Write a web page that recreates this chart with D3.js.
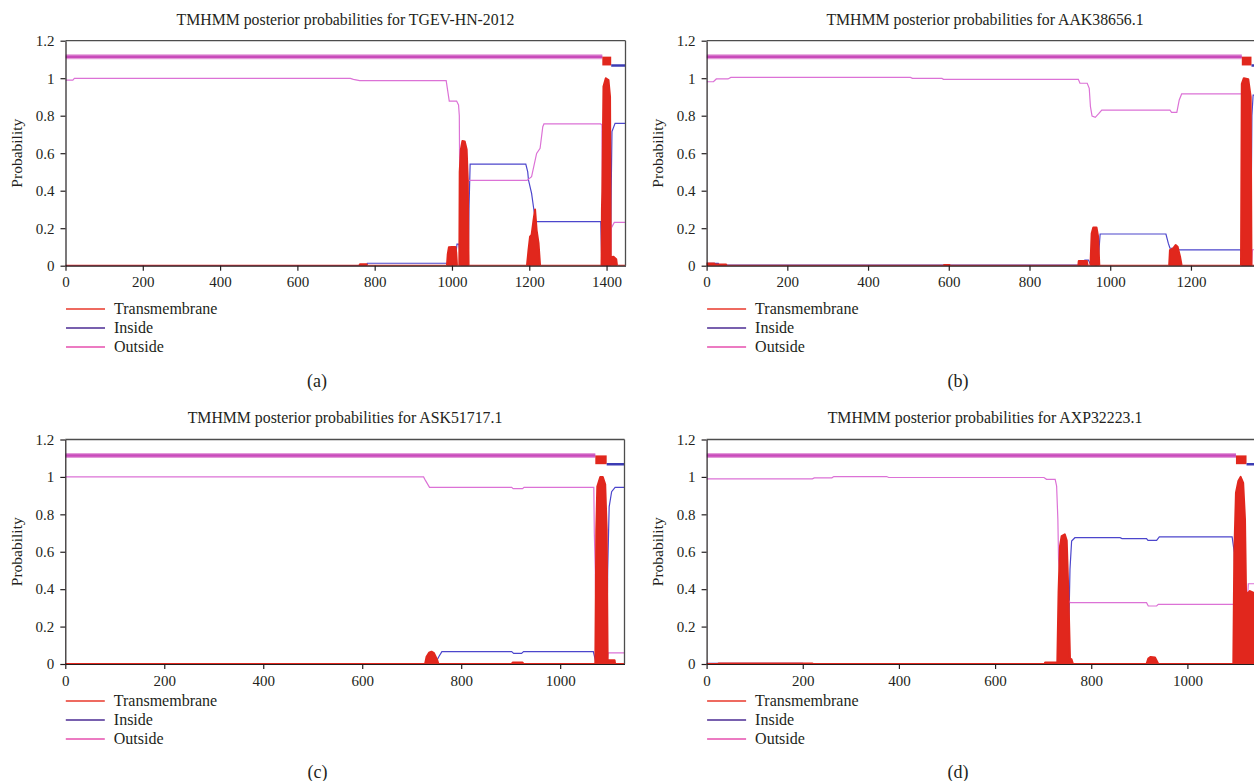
<!DOCTYPE html>
<html>
<head>
<meta charset="utf-8">
<script src="https://cdn.jsdelivr.net/npm/d3@7"></script>
<style>
  body { margin: 0; background: #fff; }
  svg { display: block; }
  text { font-family: "Liberation Serif", "Times New Roman", serif; fill: #231f20; }
</style>
</head>
<body>
<svg id="chart" width="1254" height="781"></svg>
<script>
// ---- data ----
var titles = [
    "TMHMM posterior probabilities for TGEV-HN-2012",
    "TMHMM posterior probabilities for AAK38656.1",
    "TMHMM posterior probabilities for ASK51717.1",
    "TMHMM posterior probabilities for AXP32223.1"
];
var captions = ["(a)", "(b)", "(c)", "(d)"];
var seqLengths = [1449, 1380, 1130, 1156];
var legendLabels = ["Transmembrane", "Inside", "Outside"];
var yTicks = [0, 0.2, 0.4, 0.6, 0.8, 1, 1.2];
var xTicksA = [0, 200, 400, 600, 800, 1000, 1200, 1400];
var xTicksB = [0, 200, 400, 600, 800, 1000, 1200];
var xTicksC = [0, 200, 400, 600, 800, 1000];
var xTicksD = [0, 200, 400, 600, 800, 1000];

// predicted topology: [state, from, to]
var topoA = [["outside", 0, 1389], ["TMhelix", 1389, 1412], ["inside", 1412, 1449]];
var topoB = [["outside", 0, 1326], ["TMhelix", 1326, 1350], ["inside", 1350, 1380]];
var topoC = [["outside", 0, 1071], ["TMhelix", 1071, 1094], ["inside", 1094, 1130]];
var topoD = [["outside", 0, 1101], ["TMhelix", 1101, 1123], ["inside", 1123, 1156]];

// posterior probabilities [residue, probability]
var tmA = [[0,0],[760,0],[762,0.008],[779,0.008],[781,0],
    [987,0],[989,0.06],[992,0.098],[1000,0.1],[1009,0.1],[1011,0.07],[1013,0],
    [1019,0],[1020,0.5],[1023,0.62],[1027,0.665],[1033,0.662],[1038,0.62],[1041,0.45],[1043,0],
    [1194,0],[1198,0.083],[1202,0.155],[1206,0.165],[1211,0.243],[1215,0.3],[1219,0.19],[1224,0.12],[1228,0],
    [1387,0],[1388,0.3],[1389,0.4],[1392,0.955],[1398,1.0],[1405,0.99],[1409,0.9],[1411,0],
    [1411,0.045],[1418,0.048],[1425,0.035],[1427,0],[1449,0]];
var inA = [[0,0],[779,0],[781,0.013],[1008,0.013],[1011,0.08],[1013,0.115],[1018,0.115],[1021,0.06],[1024,0],
    [1042,0],[1044,0.3],[1047,0.542],[1191,0.542],[1196,0.5],[1198,0.457],[1206,0.386],[1212,0.297],[1217,0.235],
    [1385,0.235],[1388,0],[1410,0],[1412,0.4],[1414,0.715],[1422,0.759],[1449,0.759]];
var outA = [[0,0.99],[19,0.99],[23,0.999],[737,0.999],[745,0.994],[761,0.987],[985,0.987],[993,0.878],[1012,0.878],
    [1017,0.857],[1019,0.8],[1020,0.46],[1030,0.34],[1041,0.45],[1043,0.455],[1194,0.455],[1206,0.475],[1219,0.599],
    [1228,0.626],[1235,0.741],[1238,0.756],[1385,0.756],[1388,0.75],[1390,0.3],[1392,0],[1410,0],[1412,0.2],[1420,0.231],[1449,0.231]];

var tmB = [[0,0.012],[19,0.012],[21,0.007],[48,0.007],[50,0],[587,0],[588,0.004],[602,0.004],[603,0],
    [921,0],[922,0.025],[942,0.025],[944,0],
    [951,0],[954,0.172],[958,0.204],[966,0.204],[970,0.155],[973,0],
    [1146,0],[1148,0.083],[1156,0.093],[1162,0.11],[1167,0.101],[1173,0.048],[1177,0],
    [1324,0],[1326,0.97],[1331,1.0],[1342,0.995],[1348,0.9],[1350,0],[1380,0]];
var inB = [[0,0.012],[29,0.012],[31,0.003],[925,0.003],[937,0.03],[946,0.03],[950,0.012],[966,0.003],[970,0.02],
    [975,0.169],[1138,0.169],[1144,0.119],[1148,0.093],[1160,0.093],[1173,0.084],[1324,0.084],[1328,0],
    [1348,0],[1351,0.8],[1354,0.91],[1380,0.91]];
var outB = [[0,0.981],[17,0.981],[24,0.996],[53,0.996],[60,1.004],[505,1.004],[510,0.999],[583,0.999],[587,0.994],
    [921,0.994],[925,0.973],[943,0.973],[948,0.946],[951,0.848],[955,0.798],[963,0.791],[972,0.812],[979,0.83],
    [1148,0.83],[1152,0.818],[1165,0.818],[1171,0.884],[1177,0.916],[1326,0.916],[1328,0.4],[1330,0],
    [1350,0],[1352,0.085],[1380,0.085]];

var tmC = [[0,0],[727,0],[730,0.039],[735,0.06],[740,0.066],[745,0.058],[751,0.025],[754,0],
    [902,0],[904,0.008],[924,0.008],[926,0],
    [1071,0],[1073,0.716],[1075,0.948],[1081,1.0],[1086,1.0],[1091,0.96],[1094,0.716],[1096,0],
    [1096,0.02],[1110,0.02],[1111,0],[1130,0]];
var inC = [[0,0],[747,0],[755,0.04],[761,0.066],[902,0.066],[906,0.057],[922,0.057],[926,0.066],[1067,0.066],
    [1073,0],[1094,0],[1096,0.5],[1099,0.84],[1104,0.921],[1111,0.944],[1130,0.944]];
var outC = [[0,1.0],[724,1.0],[728,0.98],[736,0.944],[902,0.944],[905,0.937],[924,0.937],[927,0.944],[1068,0.944],
    [1069,0.7],[1071,0.5],[1073,0],[1094,0],[1097,0.06],[1130,0.06]];

var tmD = [[0,0],[24,0],[25,0.003],[220,0.003],[221,0],[703,0],[704,0.008],[728,0.008],[729,0],
    [729.4,0],[732,0.381],[735,0.63],[738.5,0.684],[745,0.693],[749,0.66],[752,0.417],[755.8,0.03],[759,0.025],[762,0],
    [915,0],[918.7,0.029],[923.6,0.038],[932.6,0.035],[939.5,0],
    [1095.5,0],[1097.6,0.595],[1101,0.915],[1106,0.978],[1110.7,1.0],[1116,0.968],[1119.8,0.773],[1122,0.381],
    [1126.7,0.381],[1130,0.39],[1137,0.381],[1145,0.35],[1156,0.3]];
var inD = [[0,0.003],[200,0.003],[202,0],[728,0],[749,0.061],[753.7,0.239],[755.8,0.506],[759.2,0.657],[766,0.675],
    [860,0.675],[864,0.67],[915,0.67],[918,0.661],[936,0.661],[941.6,0.68],[1093,0.68],[1097.6,0.595],[1101,0.061],
    [1104,0],[1120,0.079],[1123,0.167],[1126.7,0.182],[1156,0.185]];
var outD = [[0,0.99],[220,0.99],[224,0.995],[260.6,0.995],[264.7,1.002],[374.6,1.002],[378.7,0.997],[701.7,0.997],
    [707,0.987],[725,0.987],[728,0.951],[730.6,0.773],[732,0.559],[735,0.47],[742,0.381],[756,0.328],[915,0.328],
    [918.7,0.31],[936,0.31],[939.5,0.319],[1097.6,0.319],[1100,0.1],[1102,0],[1120,0],[1124,0.3],[1126.7,0.429],[1156,0.429]];

// ---- styling / layout ----
var colTM = "#e1271d",
    colIn = "#4c46cc",
    colOut = "#dc72d6",
    colBand = "#c94bbb",
    colBandIn = "#3c3cb4";
var legendColors = ["#e8392b", "#4b2b93", "#e64fae"];

var panels = [
    {left: 65.5, right: 625.5, top: 40.7, bottom: 265.7, cx: 345.5, titleY: 25, legendY: 309, capX: 317, capY: 387,
     len: seqLengths[0], ticks: xTicksA, topo: topoA, tm: tmA, ins: inA, out: outA, box: true},
    {left: 706.6, right: 1263.6, top: 40.7, bottom: 265.7, cx: 985, titleY: 25, legendY: 309, capX: 958, capY: 387,
     len: seqLengths[1], ticks: xTicksB, topo: topoB, tm: tmB, ins: inB, out: outB, box: false},
    {left: 65.3, right: 624.5, top: 439.5, bottom: 664, cx: 345, titleY: 423, legendY: 701, capX: 317.5, capY: 777.5,
     len: seqLengths[2], ticks: xTicksC, topo: topoC, tm: tmC, ins: inC, out: outC, box: true},
    {left: 706.6, right: 1262.4, top: 439.5, bottom: 664, cx: 985, titleY: 423, legendY: 701, capX: 958, capY: 777.5,
     len: seqLengths[3], ticks: xTicksD, topo: topoD, tm: tmD, ins: inD, out: outD, box: false}
];

var svg = d3.select("#chart");
var defs = svg.append("defs");

panels.forEach(function(p, i) {
    var x = d3.scaleLinear().domain([0, p.len]).range([p.left, p.right]);
    var y = d3.scaleLinear().domain([0, 1.2]).range([p.bottom, p.top]);

    defs.append("clipPath").attr("id", "clip" + i)
      .append("rect")
        .attr("x", p.left).attr("y", p.top)
        .attr("width", p.right - p.left).attr("height", p.bottom - p.top);

    var g = svg.append("g");
    var plot = g.append("g").attr("clip-path", "url(#clip" + i + ")");

    var area = d3.area()
        .x(function(d) { return x(d[0]); })
        .y0(y(0))
        .y1(function(d) { return y(d[1]); });
    var line = d3.line()
        .x(function(d) { return x(d[0]); })
        .y(function(d) { return y(d[1]); });

    plot.append("path").datum(p.ins)
        .attr("d", line)
        .attr("fill", "none")
        .attr("stroke", colIn)
        .attr("stroke-width", 1.2);

    plot.append("path").datum(p.out)
        .attr("d", line)
        .attr("fill", "none")
        .attr("stroke", colOut)
        .attr("stroke-width", 1.2);

    // transmembrane probability drawn as filled impulses on top
    plot.append("path").datum(p.tm)
        .attr("d", area)
        .attr("fill", colTM)
        .attr("stroke", colTM)
        .attr("stroke-width", 2)
        .attr("stroke-linejoin", "round");

    // topology band on top
    p.topo.forEach(function(s) {
        if (s[0] == "outside") {
            plot.append("line")
                .attr("x1", x(s[1])).attr("x2", x(s[2]))
                .attr("y1", y(1.115)).attr("y2", y(1.115))
                .attr("stroke", "#e39ad9").attr("stroke-width", 5);
            plot.append("line")
                .attr("x1", x(s[1])).attr("x2", x(s[2]))
                .attr("y1", y(1.115)).attr("y2", y(1.115))
                .attr("stroke", colBand).attr("stroke-width", 2.5);
        } else if (s[0] == "TMhelix") {
            plot.append("rect")
                .attr("x", x(s[1])).attr("width", x(s[2]) - x(s[1]))
                .attr("y", y(1.115)).attr("height", y(1.068) - y(1.115))
                .attr("fill", colTM);
        } else {
            plot.append("line")
                .attr("x1", x(s[1])).attr("x2", x(s[2]))
                .attr("y1", y(1.068)).attr("y2", y(1.068))
                .attr("stroke", colBandIn).attr("stroke-width", 2.6);
        }
    });

    // axes
    var xAxis = g.append("g")
        .attr("transform", "translate(0," + p.bottom + ")")
        .call(d3.axisBottom(x).tickValues(p.ticks).tickFormat(d3.format("d"))
            .tickSize(5).tickSizeOuter(0).tickPadding(6));
    var yAxis = g.append("g")
        .attr("transform", "translate(" + p.left + ",0)")
        .call(d3.axisLeft(y).tickValues(yTicks).tickFormat(function(d) { return d3.format("")(+d.toFixed(1)); })
            .tickSize(5).tickSizeOuter(0).tickPadding(6));
    [xAxis, yAxis].forEach(function(a) {
        a.selectAll("path, line").attr("stroke", "#231f20").attr("stroke-width", 1.2);
        a.selectAll("text").attr("font-size", 15).attr("fill", "#231f20")
            .style("font-family", "'Liberation Serif', 'Times New Roman', serif");
    });

    // frame: top and right edges
    g.append("line")
        .attr("x1", p.left).attr("x2", p.right)
        .attr("y1", p.top).attr("y2", p.top)
        .attr("stroke", "#4d4d4d").attr("stroke-width", 1.3);
    if (p.box) {
        g.append("line")
            .attr("x1", p.right).attr("x2", p.right)
            .attr("y1", p.top).attr("y2", p.bottom)
            .attr("stroke", "#4d4d4d").attr("stroke-width", 1.3);
    }

    g.append("text")
        .attr("x", p.cx).attr("y", p.titleY)
        .attr("text-anchor", "middle")
        .attr("font-size", 15.8)
        .text(titles[i]);

    g.append("text")
        .attr("transform", "translate(" + (p.left - 43.5) + "," + ((p.top + p.bottom) / 2) + ") rotate(-90)")
        .attr("text-anchor", "middle")
        .attr("font-size", 15.5)
        .text("Probability");

    // legend
    legendLabels.forEach(function(lab, k) {
        var ly = p.legendY + k * 19;
        g.append("line")
            .attr("x1", p.left + 0.5).attr("x2", p.left + 39.5)
            .attr("y1", ly).attr("y2", ly)
            .attr("stroke", legendColors[k]).attr("stroke-width", 1.5);
        g.append("text")
            .attr("x", p.left + 48.5).attr("y", ly + 5)
            .attr("font-size", 16)
            .text(lab);
    });

    g.append("text")
        .attr("x", p.capX).attr("y", p.capY)
        .attr("text-anchor", "middle")
        .attr("font-size", 18)
        .text(captions[i]);
});
</script>
</body>
</html>
